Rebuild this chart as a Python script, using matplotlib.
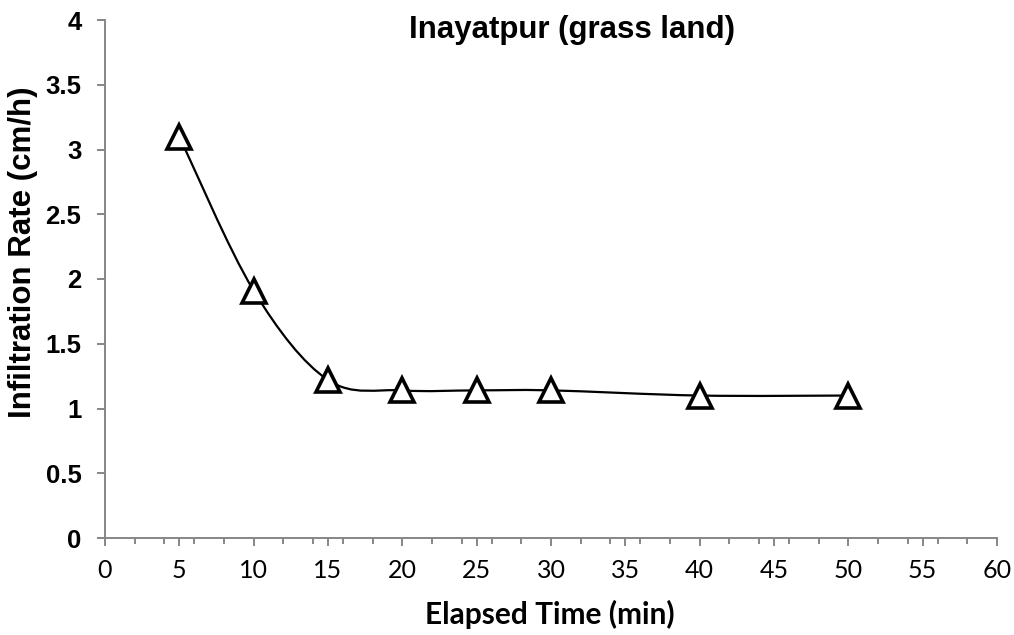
import numpy as np
from matplotlib import pyplot as plt
from matplotlib.path import Path
from matplotlib.patches import PathPatch
from matplotlib.ticker import MultipleLocator, FormatStrFormatter

elapsed_min = [5, 10, 15, 20, 25, 30, 40, 50]
infil_rate = [3.1, 1.91, 1.22, 1.14, 1.14, 1.14, 1.10, 1.10]

title = 'Inayatpur (grass land)'
xlabel = 'Elapsed Time (min)'
ylabel = 'Infiltration Rate (cm/h)'

axis_grey = '#868686'


def smooth_path(xs, ys):
    # excel-style smoothed line: cubic bezier through each point
    pts = np.column_stack([xs, ys]).astype(float)
    ext = np.vstack([pts[:1], pts, pts[-1:]])
    verts = [pts[0]]
    codes = [Path.MOVETO]
    for i in range(1, len(ext) - 2):
        p0, p1, p2, p3 = ext[i - 1], ext[i], ext[i + 1], ext[i + 2]
        c1 = p1 + (p2 - p0) / 6.0
        c2 = p2 - (p3 - p1) / 6.0
        verts += [c1, c2, p2]
        codes += [Path.CURVE4] * 3
    return Path(verts, codes)


fig = plt.figure(figsize=(10.14, 6.35), dpi=100)
ax = fig.add_axes([105 / 1014, 97 / 635, 892 / 1014, 518 / 635])

curve = PathPatch(smooth_path(elapsed_min, infil_rate), facecolor='none',
                  edgecolor='black', linewidth=1.6, zorder=2)
ax.add_patch(curve)
ax.plot(elapsed_min, infil_rate, linestyle='none', marker='^',
        markersize=17, markerfacecolor='white', markeredgecolor='black',
        markeredgewidth=2.6, zorder=3)

ax.set_xlim(0, 60)
ax.set_ylim(0, 4)
ax.xaxis.set_major_locator(MultipleLocator(5))
ax.xaxis.set_minor_locator(MultipleLocator(2))
ax.yaxis.set_major_locator(MultipleLocator(0.5))
ax.yaxis.set_major_formatter(FormatStrFormatter('%g'))

for side in ['top', 'right']:
    ax.spines[side].set_visible(False)
for side in ['left', 'bottom']:
    ax.spines[side].set_color(axis_grey)
    ax.spines[side].set_linewidth(1.4)

ax.tick_params(axis='x', which='major', direction='out', length=6,
               width=1.4, color=axis_grey, pad=9)
ax.tick_params(axis='x', which='minor', direction='out', length=4,
               width=1.4, color=axis_grey)
ax.tick_params(axis='y', which='major', direction='out', length=6,
               width=1.4, color=axis_grey, pad=11)

for lbl in ax.get_xticklabels():
    lbl.set_fontfamily('Lato')
    lbl.set_fontsize(18)
for lbl in ax.get_yticklabels():
    lbl.set_fontfamily('Liberation Sans')
    lbl.set_fontweight('bold')
    lbl.set_fontsize(18.5)

fig.text(572 / 1014, 1 - 30 / 635, title, ha='center', va='center',
         fontsize=22.5, fontweight='bold', family='Liberation Sans')
fig.text(550 / 1014, 1 - 614 / 635, xlabel, ha='center', va='center',
         fontsize=21.5, fontweight='bold', family='Lato')
fig.text(23 / 1014, 1 - 252 / 635, ylabel, ha='center', va='center',
         rotation=90, fontsize=22.5, fontweight='bold', family='Liberation Sans')

fig.savefig('out.png', dpi=100)
